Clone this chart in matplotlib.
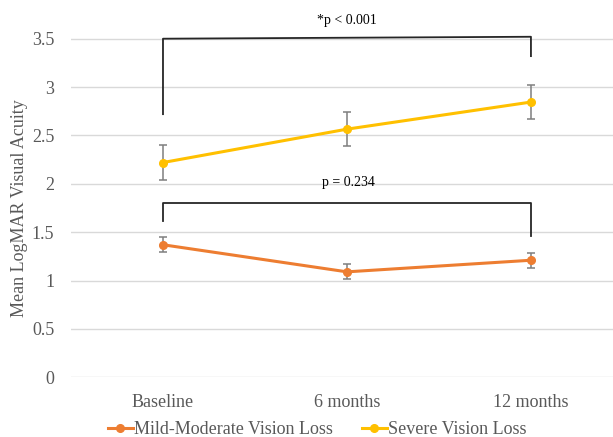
import matplotlib
matplotlib.use("Agg")
import matplotlib.pyplot as plt
from matplotlib.lines import Line2D

categories = ["Baseline", "6 months", "12 months"]
mild_values = [1.37, 1.09, 1.21]
mild_err = [0.078, 0.077, 0.08]
severe_values = [2.22, 2.565, 2.845]
severe_err = [0.18, 0.177, 0.18]
yticks = [0, 0.5, 1, 1.5, 2, 2.5, 3, 3.5]
ytick_labels = ["0", "0.5", "1", "1.5", "2", "2.5", "3", "3.5"]
series_names = ["Mild-Moderate Vision Loss", "Severe Vision Loss"]

plt.rcParams['font.family'] = ['Liberation Serif', 'DejaVu Serif']

W, H = 613, 437
fig = plt.figure(figsize=(W/100, H/100), dpi=100)
ax = fig.add_axes([71/W, (H-377.3)/H, 1 - 71/W, 377.3/H])

x = list(range(len(categories)))
orange = "#ED7D31"
yellow = "#FFC000"
errc = "#7F7F7F"

ax.errorbar(x, mild_values, yerr=mild_err, color=orange, lw=2.2, marker='o', ms=5.5,
            ecolor=errc, elinewidth=1.1, capsize=2.7, capthick=1.1, zorder=3)
ax.errorbar(x, severe_values, yerr=severe_err, color=yellow, lw=2.2, marker='o', ms=5.5,
            ecolor=errc, elinewidth=1.1, capsize=2.7, capthick=1.1, zorder=3)

ax.set_xlim(-0.5, 2.446)
ax.set_ylim(0, 3.9)
ax.set_yticks(yticks)
ax.set_yticklabels(ytick_labels)
ax.set_xticks(x)
ax.set_xticklabels(categories)
ax.tick_params(axis='both', length=0, labelsize=13, labelcolor="#595959")
ax.tick_params(axis='x', pad=12)
ax.tick_params(axis='y', pad=12)
for s in ax.spines.values():
    s.set_visible(False)
ax.grid(axis='y', color="#D9D9D9", lw=1)
ax.set_axisbelow(True)

fig.text(20/W, 1 - 208/H, "Mean LogMAR Visual Acuity", rotation=90, ha='center', va='center',
         fontsize=13, color="#595959")

# significance brackets
ax.plot([0, 0, 2, 2], [2.72, 3.50, 3.52, 3.32], color="#262626", lw=1.3, zorder=2)
ax.text(1, 3.685, "*p < 0.001", ha='center', va='center', fontsize=10, color="black")
ax.plot([0, 0, 2, 2], [1.62, 1.80, 1.80, 1.46], color="#262626", lw=1.3, zorder=2)
ax.text(1.01, 2.01, "p = 0.234", ha='center', va='center', fontsize=10, color="black")

handles = [Line2D([], [], color=orange, lw=2.2, marker='o', ms=5.5),
           Line2D([], [], color=yellow, lw=2.2, marker='o', ms=5.5)]
fig.legend(handles, series_names, loc='center', bbox_to_anchor=(317/W, 1 - 430/H), ncol=2,
           frameon=False, fontsize=13, handlelength=1.4, handletextpad=0.05, columnspacing=1.6,
           labelcolor="#595959")

fig.savefig("out.png", dpi=100)
